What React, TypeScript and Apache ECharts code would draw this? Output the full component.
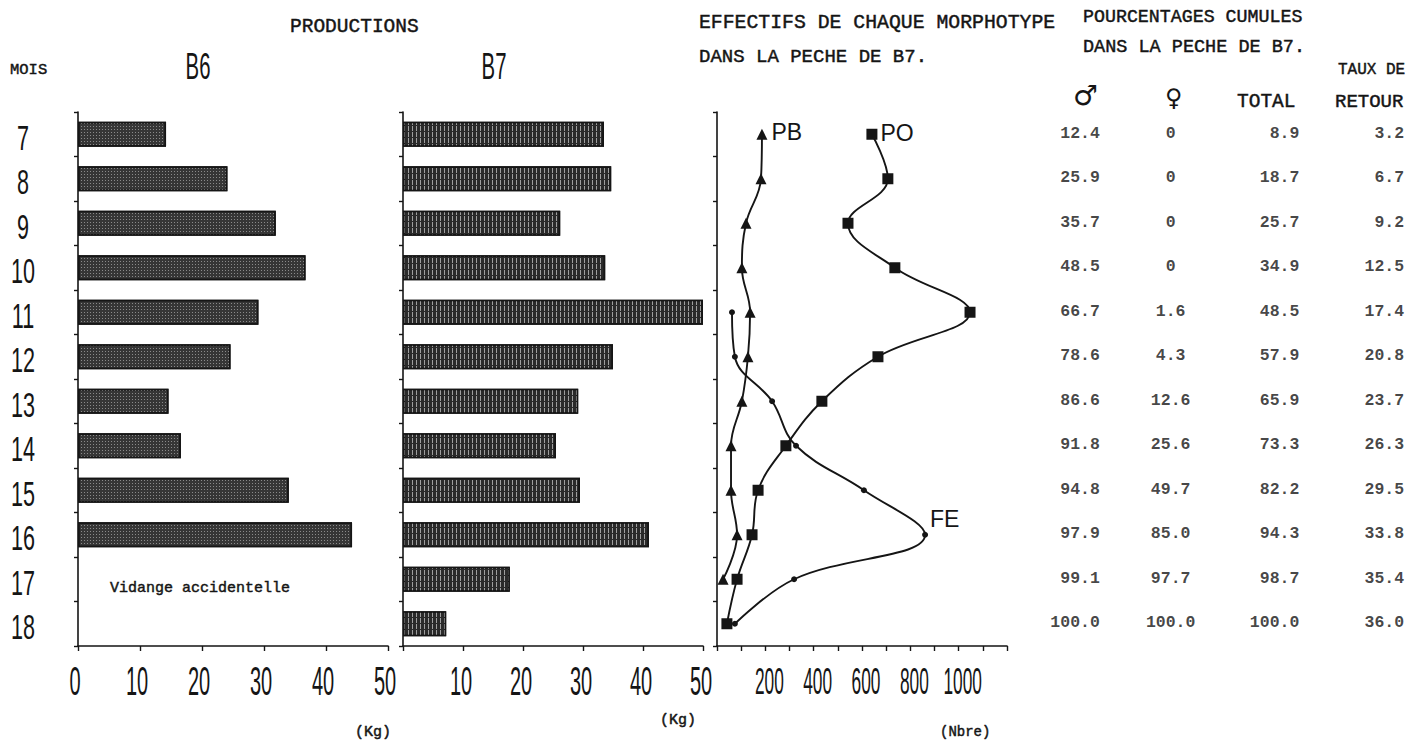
import React, { useEffect, useRef } from "react";
import * as echarts from "echarts";

// Months of rearing (rows shared by every panel)
const months = ["7", "8", "9", "10", "11", "12", "13", "14", "15", "16", "17", "18"];

// Production per month (kg)
const b6Production: (number | null)[] = [14.2, 24.1, 31.9, 36.7, 29.1, 24.6, 14.6, 16.6, 34.0, 44.2, null, null];
const b7Production: (number | null)[] = [33.5, 34.7, 26.2, 33.7, 50.0, 35.0, 29.2, 25.5, 29.5, 41.0, 17.8, 7.2];

// Number of animals of each morphotype in the B7 catch
const pbCounts: (number | null)[] = [186, 182, 120, 103, 137, 128, 103, 58, 58, 83, 25, null];
const poCounts: (number | null)[] = [641, 707, 542, 736, 1047, 666, 434, 285, 170, 145, 83, 41];
const feCounts: (number | null)[] = [null, null, null, null, 62, 74, 228, 327, 608, 861, 319, 74];

// Cumulative percentages in the B7 catch
const tableColumns = ["male", "female", "total", "retour"];
const malePct = [12.4, 25.9, 35.7, 48.5, 66.7, 78.6, 86.6, 91.8, 94.8, 97.9, 99.1, 100.0];
const femalePct = [0, 0, 0, 0, 1.6, 4.3, 12.6, 25.6, 49.7, 85.0, 97.7, 100.0];
const totalPct = [8.9, 18.7, 25.7, 34.9, 48.5, 57.9, 65.9, 73.3, 82.2, 94.3, 98.7, 100.0];
const returnRate = [3.2, 6.7, 9.2, 12.5, 17.4, 20.8, 23.7, 26.3, 29.5, 33.8, 35.4, 36.0];

// Axis tick labels
const kgTicksB6 = [0, 10, 20, 30, 40, 50];
const kgTicksB7 = [10, 20, 30, 40, 50];
const countTicks = [200, 400, 600, 800, 1000];

const MONO = "'Liberation Mono', 'DejaVu Sans Mono', monospace";
const SANS = "'Liberation Sans', Arial, sans-serif";
const SYMBOLS = "'DejaVu Sans', sans-serif";
const INK = "#151515";

const GRID_TOP = 112;
const GRID_H = 534;

function catAxis(gridIndex: number) {
  return {
    type: "category",
    gridIndex,
    data: months,
    inverse: true,
    show: gridIndex !== 3,
    axisLine: { show: true, lineStyle: { color: INK, width: 1.6 } },
    axisTick: { show: true, length: 4, lineStyle: { color: INK, width: 1.4 } },
    axisLabel: { show: false },
  };
}

function valAxis(gridIndex: number, max: number, interval: number) {
  return {
    type: "value",
    gridIndex,
    min: 0,
    max,
    interval,
    splitLine: { show: false },
    axisLine: { show: true, lineStyle: { color: INK, width: 1.6 } },
    axisTick: { show: true, length: 5, lineStyle: { color: INK, width: 1.4 } },
    axisLabel: { show: false },
  };
}

function pairs(values: (number | null)[]) {
  const out: [number, number][] = [];
  values.forEach((v, i) => {
    if (v !== null) out.push([v, i]);
  });
  return out;
}

function tableSeries(col: number, values: number[], align: string, dx: number) {
  return {
    type: "scatter",
    xAxisIndex: 3,
    yAxisIndex: 3,
    symbolSize: 0,
    silent: true,
    data: values.map((v, i) => [tableColumns[col], months[i], v]),
    label: {
      show: true,
      position: "inside",
      align,
      offset: [dx, -1],
      fontFamily: MONO,
      fontWeight: "bold",
      fontSize: 16.5,
      color: INK,
      formatter: (p: any) => {
        const v = p.value[2] as number;
        return col === 1 && v === 0 ? "0" : v.toFixed(1);
      },
    },
  };
}

// Typewriter-style text, slightly thickened
function typed(text: string, x: number, y: number, size: number, extra: any = {}) {
  return {
    type: "text",
    x,
    y,
    style: {
      text,
      fontFamily: MONO,
      fontSize: size,
      fill: INK,
      stroke: INK,
      lineWidth: 0.45,
      textVerticalAlign: "middle",
      ...extra,
    },
  };
}

// Tall, narrow hand-lettered figures
function narrow(text: string, x: number, y: number, size: number, sx: number) {
  return {
    type: "text",
    x,
    y,
    scaleX: sx,
    style: {
      text,
      x: 0,
      y: 0,
      fontFamily: SANS,
      fontSize: size,
      fill: INK,
      textAlign: "center",
      textVerticalAlign: "middle",
    },
  };
}

function plain(text: string, x: number, y: number, size: number, font: string) {
  return {
    type: "text",
    x,
    y,
    style: { text, fontFamily: font, fontSize: size, fill: INK, textVerticalAlign: "middle" },
  };
}

export default function App() {
  const ref = useRef<HTMLDivElement>(null);

  useEffect(() => {
    document.body.style.margin = "0";
    if (!ref.current) return;
    const chart = echarts.init(ref.current, undefined, { renderer: "svg" });

    const lineStyle = { color: INK, width: 1.9 };
    const curveLabel = (name: string, distance: number, offset: number[]) => ({
      show: true,
      position: "right",
      distance,
      offset,
      formatter: name,
      fontFamily: SANS,
      fontSize: 23,
      color: INK,
    });
    const feMax = Math.max(...(feCounts.filter((v) => v !== null) as number[]));

    chart.setOption({
      animation: false,
      backgroundColor: "#ffffff",
      grid: [
        { left: 78, width: 310, top: GRID_TOP, height: GRID_H },
        { left: 403, width: 300, top: GRID_TOP, height: GRID_H },
        { left: 717, width: 290, top: GRID_TOP, height: GRID_H },
        { left: 1030, width: 400, top: GRID_TOP, height: GRID_H },
      ],
      xAxis: [
        valAxis(0, 50, 10),
        valAxis(1, 50, 10),
        valAxis(2, 1200, 100),
        { type: "category", gridIndex: 3, data: tableColumns, show: false },
      ],
      yAxis: [catAxis(0), catAxis(1), catAxis(2), catAxis(3)],
      series: [
        {
          type: "bar",
          xAxisIndex: 0,
          yAxisIndex: 0,
          barWidth: 25,
          data: b6Production,
          itemStyle: {
            color: "#363636",
            borderColor: INK,
            borderWidth: 1.5,
            decal: {
              symbol: "rect",
              symbolSize: 1,
              color: "rgba(255,255,255,0.42)",
              dashArrayX: [1, 2],
              dashArrayY: [1, 2],
            },
          },
        },
        {
          type: "bar",
          xAxisIndex: 1,
          yAxisIndex: 1,
          barWidth: 25,
          data: b7Production,
          itemStyle: {
            color: "#2a2a2a",
            borderColor: INK,
            borderWidth: 1.5,
            decal: {
              symbol: "rect",
              symbolSize: 1,
              color: "rgba(255,255,255,0.55)",
              dashArrayX: [1, 3],
              dashArrayY: [5, 1],
            },
          },
        },
        {
          type: "line",
          name: "PB",
          xAxisIndex: 2,
          yAxisIndex: 2,
          smooth: 0.4,
          symbol: "triangle",
          symbolSize: 11,
          lineStyle,
          itemStyle: { color: INK },
          data: pairs(pbCounts).map((d, k) =>
            k === 0 ? { value: d, label: curveLabel("PB", 4, [0, -2]) } : d
          ),
        },
        {
          type: "line",
          name: "PO",
          xAxisIndex: 2,
          yAxisIndex: 2,
          smooth: 0.4,
          symbol: "rect",
          symbolSize: 11,
          lineStyle,
          itemStyle: { color: INK },
          data: pairs(poCounts).map((d, k) =>
            k === 0 ? { value: d, label: curveLabel("PO", 3, [0, -1]) } : d
          ),
        },
        {
          type: "line",
          name: "FE",
          xAxisIndex: 2,
          yAxisIndex: 2,
          smooth: 0.4,
          symbol: "circle",
          symbolSize: 6,
          lineStyle,
          itemStyle: { color: INK },
          data: pairs(feCounts).map((d) =>
            d[0] === feMax ? { value: d, label: curveLabel("FE", 2, [0, -16]) } : d
          ),
        },
        tableSeries(0, malePct, "right", 21),
        tableSeries(1, femalePct, "center", -6),
        tableSeries(2, totalPct, "right", 25),
        tableSeries(3, returnRate, "right", 32),
      ],
    });

    // Hand-lettered tick labels placed through the axes' own scales
    const LABEL_Y = 681;
    const tickLabels: any[] = [];
    kgTicksB6.forEach((v) => {
      const px = chart.convertToPixel({ xAxisIndex: 0 }, v) as number;
      tickLabels.push(narrow(String(v), px - 3, LABEL_Y, 40, 0.5));
    });
    kgTicksB7.forEach((v) => {
      const px = chart.convertToPixel({ xAxisIndex: 1 }, v) as number;
      tickLabels.push(narrow(String(v), px - 2, LABEL_Y, 40, 0.5));
    });
    countTicks.forEach((v) => {
      const px = chart.convertToPixel({ xAxisIndex: 2 }, v) as number;
      tickLabels.push(narrow(String(v), px + 4, LABEL_Y, 36, 0.48));
    });
    months.forEach((m) => {
      const py = chart.convertToPixel({ yAxisIndex: 0 }, m) as number;
      tickLabels.push(narrow(m, 23, py + 3, 36, 0.6));
    });

    chart.setOption({
      graphic: [
        ...tickLabels,
        typed("PRODUCTIONS", 290, 27, 19.5),
        typed("MOIS", 10, 70, 15.5),
        narrow("B6", 198, 66, 37, 0.55),
        narrow("B7", 494, 66, 37, 0.55),
        typed("EFFECTIFS DE CHAQUE MORPHOTYPE", 699, 23, 19.8),
        typed("DANS LA PECHE DE B7.", 699, 57, 19),
        typed("POURCENTAGES CUMULES", 1083, 17, 18.3),
        typed("DANS LA PECHE DE B7.", 1083, 47, 18.5),
        typed("TAUX DE", 1338, 70, 16),
        plain("\u2642", 1073, 95, 28, SYMBOLS),
        plain("\u2640", 1165, 98, 24, SYMBOLS),
        typed("TOTAL", 1237, 102, 19.5),
        typed("RETOUR", 1335, 102, 19),
        typed("Vidange accidentelle", 110, 588, 15),
        typed("(Kg)", 355, 732, 15),
        typed("(Kg)", 660, 720, 15),
        typed("(Nbre)", 940, 732, 14),
      ],
    });

    return () => chart.dispose();
  }, []);

  return <div ref={ref} style={{ width: 1421, height: 744 }} />;
}
